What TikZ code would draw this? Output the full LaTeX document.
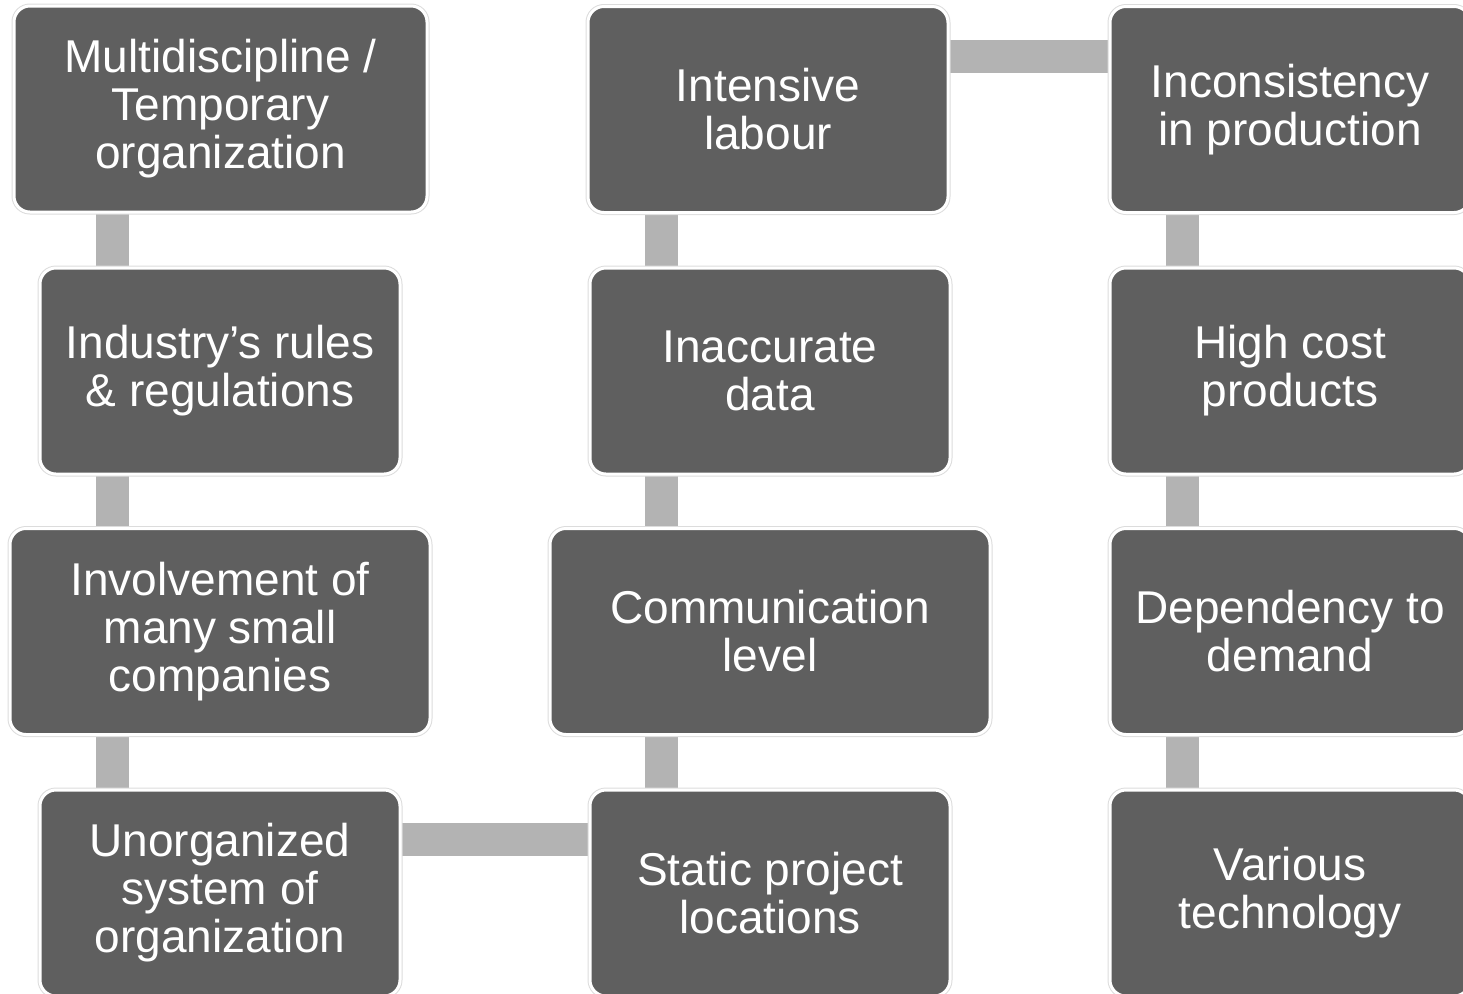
\documentclass[tikz,border=0pt]{standalone}
\usepackage{fontspec}
\setmainfont{Liberation Sans}
\usepackage{xcolor}
\usepackage{tikz}
\usetikzlibrary{positioning, backgrounds}
\definecolor{boxgray}{HTML}{5F5F5F}
\definecolor{bargray}{HTML}{B3B3B3}
\definecolor{rimgray}{HTML}{DCDCDC}

\begin{document}
\begin{tikzpicture}[x=0.5pt, y=-0.5pt,
  factor/.style={fill=boxgray, draw=white, line width=1.5pt, rounded corners=8pt,
    preaction={draw=rimgray, line width=2.5pt},
    minimum height=103pt, align=center, text=white,
    font=\fontsize{23}{24}\selectfont},
  link/.style={draw=bargray, line width=16.5pt, shorten <=-2pt, shorten >=-2pt}]
\useasboundingbox (0,0) rectangle (1463,993);
\clip (0,0) rectangle (1463,993);
% first column
\node[factor, minimum width=206.5pt] (multi_org) at (220.5,109) {Multidiscipline /\\Temporary\\organization};
\node[factor, minimum width=180pt] (rules) at (220,371) {Industry’s rules\\\& regulations};
\node[factor, minimum width=210pt] (small_co) at (220,631.5) {Involvement of\\many small\\companies};
\node[factor, minimum width=180pt] (unorg) at (220,893) {Unorganized\\system of\\organization};
% second column
\node[factor, minimum width=180pt] (labour) at (768,109.5) {Intensive\\labour};
\node[factor, minimum width=180pt] (data) at (770,371) {Inaccurate\\data};
\node[factor, minimum width=220pt] (comm) at (770,631.5) {Communication\\level};
\node[factor, minimum width=180pt] (static_loc) at (770,893) {Static project\\locations};
% third column
\node[factor, minimum width=180pt] (consist) at (1290,109.5) {Inconsistency\\in production};
\node[factor, minimum width=180pt] (cost) at (1290,371) {High cost\\products};
\node[factor, minimum width=180pt] (demand) at (1290,631.5) {Dependency to\\demand};
\node[factor, minimum width=180pt] (tech) at (1290,893) {Various\\technology};
\begin{scope}[on background layer]
\coordinate (bar_1) at (112.5,0);
\coordinate (bar_2) at (661.5,0);
\coordinate (bar_3) at (1182.5,0);
\coordinate (bar_top) at (0,56);
\coordinate (bar_bot) at (0,839.5);
\draw[link] (multi_org.south -| bar_1) -- (rules.north -| bar_1);
\draw[link] (rules.south -| bar_1) -- (small_co.north -| bar_1);
\draw[link] (small_co.south -| bar_1) -- (unorg.north -| bar_1);
\draw[link] (unorg.east |- bar_bot) -- (static_loc.west |- bar_bot);
\draw[link] (static_loc.north -| bar_2) -- (comm.south -| bar_2);
\draw[link] (comm.north -| bar_2) -- (data.south -| bar_2);
\draw[link] (data.north -| bar_2) -- (labour.south -| bar_2);
\draw[link] (labour.east |- bar_top) -- (consist.west |- bar_top);
\draw[link] (consist.south -| bar_3) -- (cost.north -| bar_3);
\draw[link] (cost.south -| bar_3) -- (demand.north -| bar_3);
\draw[link] (demand.south -| bar_3) -- (tech.north -| bar_3);
\end{scope}
\end{tikzpicture}
\end{document}
